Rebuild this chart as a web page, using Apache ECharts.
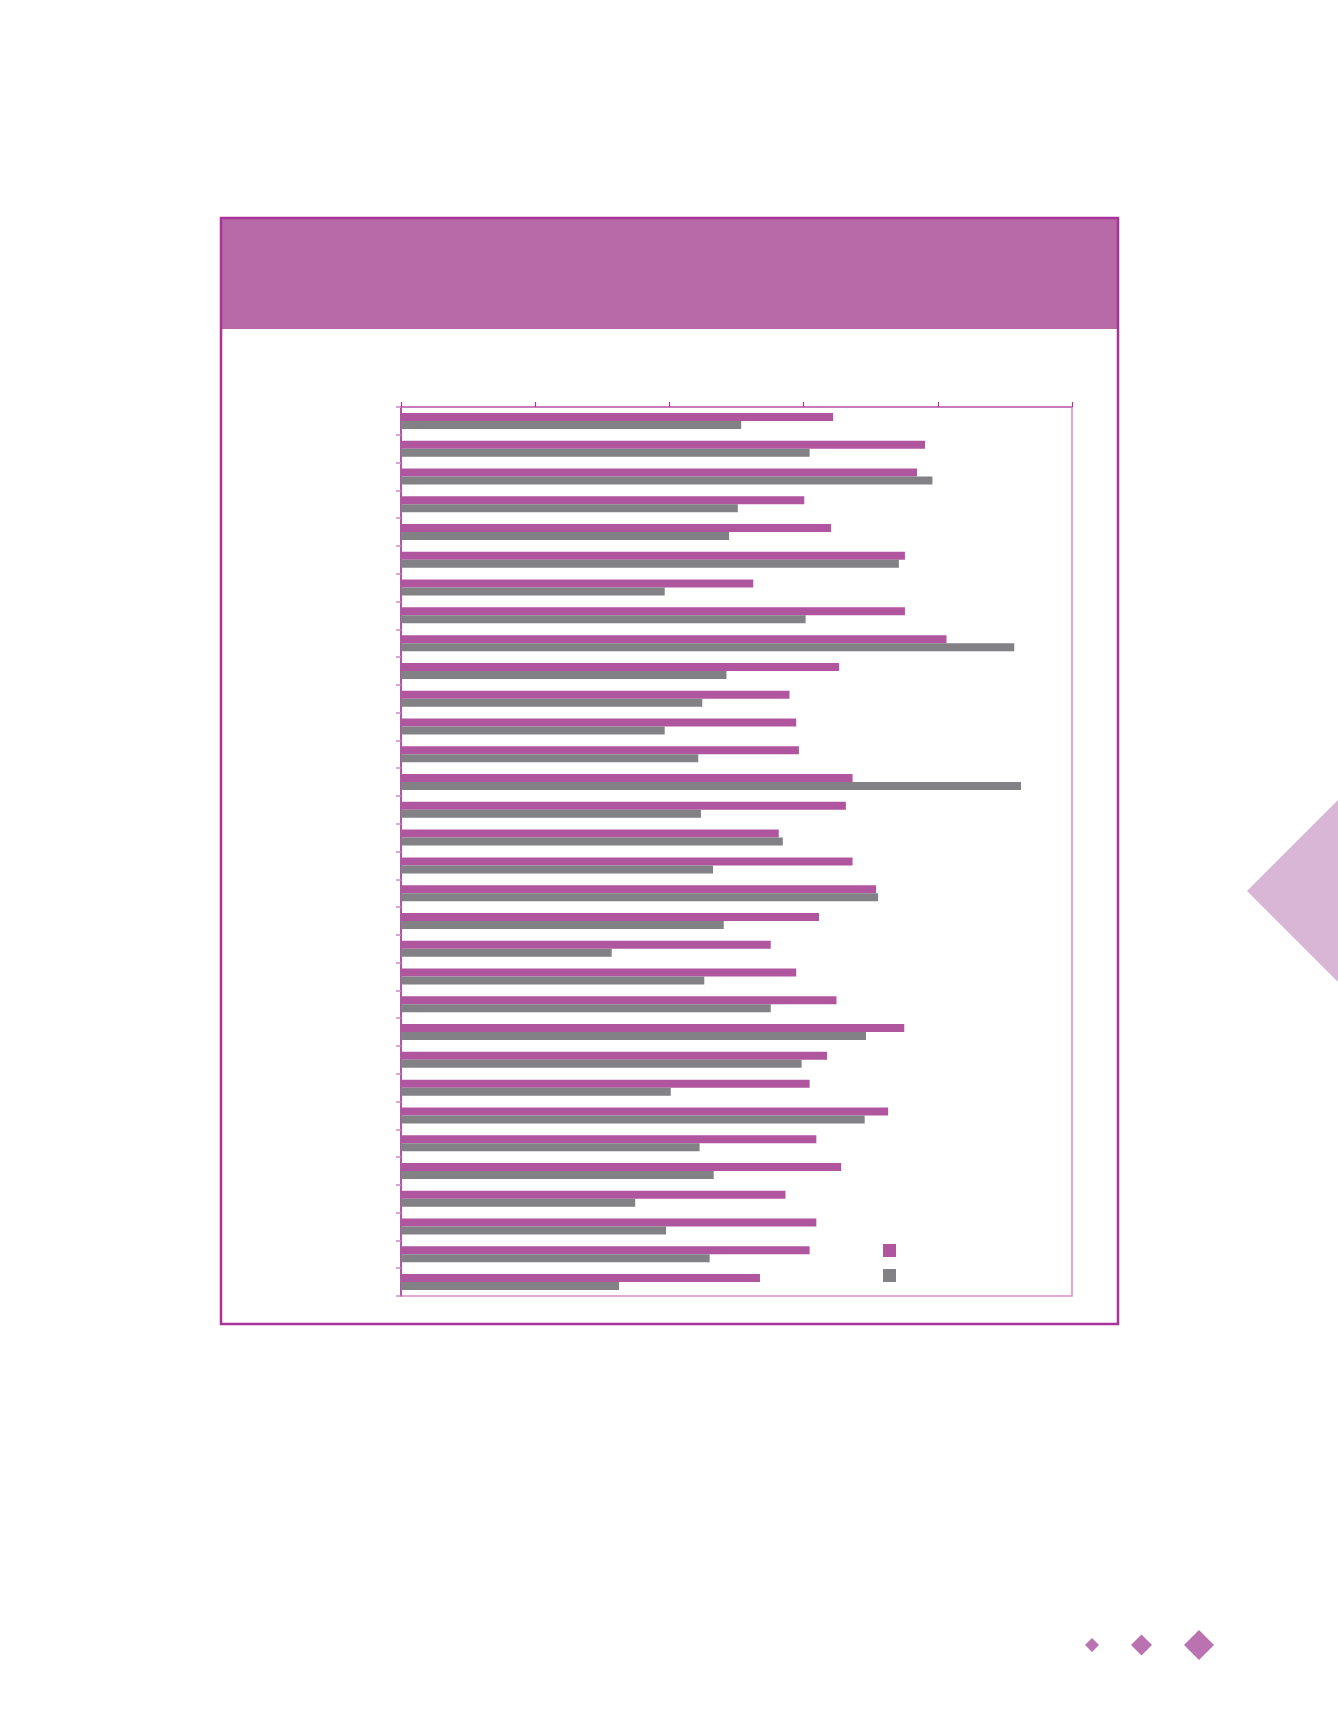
<!DOCTYPE html>
<html>
<head>
<meta charset="utf-8">
<script src="https://cdn.jsdelivr.net/npm/echarts@6/dist/echarts.min.js"></script>
<style>
  html, body { margin: 0; padding: 0; background: #fff; }
  #chart { width: 1338px; height: 1731px; }
</style>
</head>
<body>
<div id="chart"></div>
<script>
// categories (no labels shown in the original)
var categories = ['1', '2', '3', '4', '5', '6', '7', '8', '9', '10', '11', '12', '13', '14', '15', '16',
  '17', '18', '19', '20', '21', '22', '23', '24', '25', '26', '27', '28', '29', '30', '31', '32']

// pink series
var seriesA = [64.4, 78.1, 76.9, 60.1, 64.1, 75.1, 52.5, 75.1, 81.3, 65.3, 57.9, 58.9, 59.3, 67.3, 66.3, 56.3,
  67.3, 70.8, 62.3, 55.1, 58.9, 64.9, 75.0, 63.5, 60.9, 72.6, 61.9, 65.6, 57.3, 61.9, 60.9, 53.5]

// grey series
var seriesB = [50.7, 60.9, 79.2, 50.2, 48.9, 74.2, 39.3, 60.3, 91.4, 48.5, 44.9, 39.3, 44.3, 92.4, 44.7, 56.9,
  46.5, 71.1, 48.1, 31.4, 45.2, 55.1, 69.3, 59.7, 40.2, 69.1, 44.5, 46.6, 34.9, 39.5, 46.0, 32.5]

var xTicks = [0, 20, 40, 60, 80, 100]

var chart = echarts.init(document.getElementById('chart'))

var option = {
  backgroundColor: '#ffffff',
  animation: false,
  grid: {
    left: 401,
    top: 407,
    right: 266,
    bottom: 435,
    show: true,
    borderColor: '#d48fc7',
    borderWidth: 1.5
  },
  legend: {
    orient: 'vertical',
    left: 883,
    top: 1244,
    padding: 0,
    itemWidth: 13,
    itemHeight: 13,
    itemGap: 12,
    icon: 'rect',
    formatter: function () { return '' },
    data: ['A', 'B']
  },
  xAxis: {
    type: 'value',
    position: 'top',
    min: xTicks[0],
    max: xTicks[xTicks.length - 1],
    interval: xTicks[1] - xTicks[0],
    axisLine: { show: true, lineStyle: { color: '#c469b5', width: 1.5 } },
    axisTick: { show: true, length: 5, lineStyle: { color: '#a8379b', width: 1.2 } },
    axisLabel: { show: false },
    splitLine: { show: false }
  },
  yAxis: {
    type: 'category',
    data: categories,
    inverse: true,
    axisLine: { show: true, lineStyle: { color: '#a8379b', width: 1.5 } },
    axisTick: { show: true, length: 5, lineStyle: { color: '#d08ac4', width: 1.5 } },
    axisLabel: { show: false }
  },
  series: [
    {
      name: 'A',
      type: 'bar',
      data: seriesA,
      barWidth: 8,
      barGap: '0%',
      itemStyle: { color: '#b0569f' }
    },
    {
      name: 'B',
      type: 'bar',
      data: seriesB,
      barWidth: 8,
      barGap: '0%',
      itemStyle: { color: '#818186' }
    }
  ],
  graphic: [
    {
      type: 'rect',
      shape: { x: 221, y: 218, width: 897, height: 111 },
      style: { fill: '#b86aa8' },
      z: -2
    },
    {
      type: 'rect',
      shape: { x: 221, y: 218, width: 897, height: 1106 },
      style: { fill: 'none', stroke: '#a9339b', lineWidth: 2.5 },
      z: -1
    },
    {
      type: 'polygon',
      shape: { points: [[1247, 891], [1338, 800], [1338, 982]] },
      style: { fill: '#d9b6d6' }
    },
    {
      type: 'polygon',
      shape: { points: [[1085, 1645], [1092, 1638], [1099, 1645], [1092, 1652]] },
      style: { fill: '#bb72b0' }
    },
    {
      type: 'polygon',
      shape: { points: [[1131, 1645], [1141.5, 1634.5], [1152, 1645], [1141.5, 1655.5]] },
      style: { fill: '#bb72b0' }
    },
    {
      type: 'polygon',
      shape: { points: [[1184, 1645], [1199, 1630], [1214, 1645], [1199, 1660]] },
      style: { fill: '#bb72b0' }
    }
  ]
}

chart.setOption(option)
</script>
</body>
</html>
